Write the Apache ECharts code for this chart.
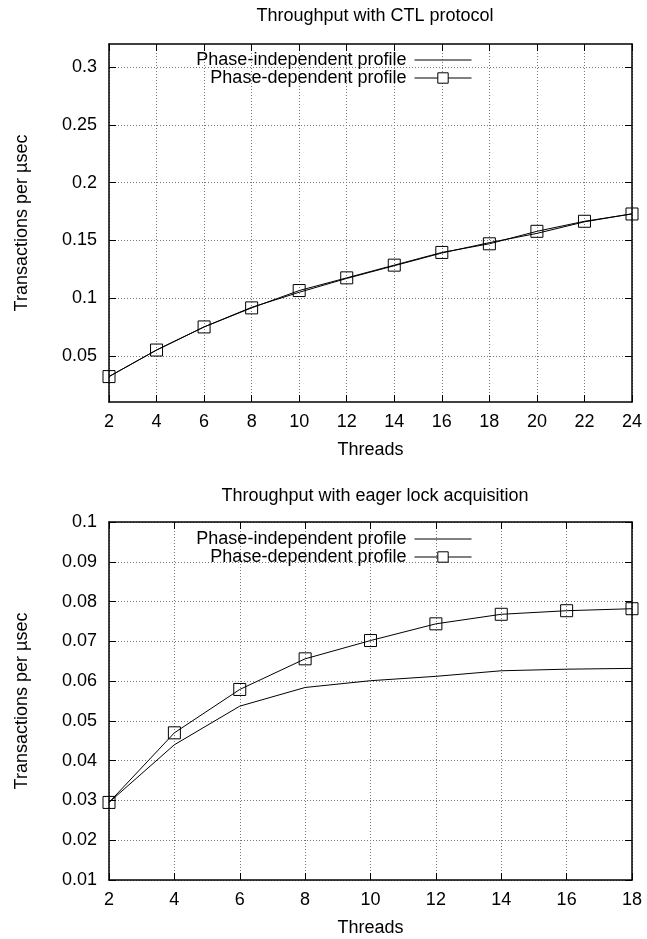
<!DOCTYPE html>
<html>
<head>
<meta charset="utf-8">
<script src="https://cdn.jsdelivr.net/npm/echarts@6/dist/echarts.min.js"></script>
<style>
  html, body {margin: 0; padding: 0; background: #fff;}
  #main {width: 647px; height: 939px;}
</style>
</head>
<body>
<div id="main"></div>
<script>
// top chart: CTL protocol
const ctlThreads = [2, 4, 6, 8, 10, 12, 14, 16, 18, 20, 22, 24];
const ctlIndependent = [0.032, 0.055, 0.075, 0.092, 0.105, 0.117, 0.128, 0.139, 0.148, 0.156, 0.166, 0.173];
const ctlDependent = [0.032, 0.055, 0.075, 0.0915, 0.1065, 0.1175, 0.1285, 0.1395, 0.147, 0.1578, 0.1665, 0.1728];
const ctlYTicks = [0.05, 0.1, 0.15, 0.2, 0.25, 0.3];

// bottom chart: eager lock acquisition
const eagerThreads = [2, 4, 6, 8, 10, 12, 14, 16, 18];
const eagerIndependent = [0.0295, 0.044, 0.0537, 0.0584, 0.0601, 0.0612, 0.0626, 0.063, 0.0632];
const eagerDependent = [0.0295, 0.047, 0.0579, 0.0656, 0.0702, 0.0744, 0.0768, 0.0777, 0.0782];
const eagerYTicks = [0.01, 0.02, 0.03, 0.04, 0.05, 0.06, 0.07, 0.08, 0.09, 0.1];

const FONT = '"Liberation Sans", Arial, sans-serif';
const fs = 18;
const pairs = (xs, ys) => xs.map((x, i) => [x, ys[i]]);

const gridLine = {show: true, lineStyle: {color: '#777', type: [1, 2], width: 1}};
const tick = {show: true, inside: true, length: 7, lineStyle: {color: '#000'}};

const xMain = (gi, max) => ({
  type: 'value', gridIndex: gi, min: 2, max: max, interval: 2,
  name: 'Threads', nameLocation: 'middle', nameGap: 39,
  nameTextStyle: {color: '#000', fontSize: fs, fontFamily: FONT},
  axisLine: {lineStyle: {color: '#000', width: 1.5}},
  axisTick: tick,
  axisLabel: {color: '#000', fontSize: fs, fontFamily: FONT, margin: 11},
  splitLine: gridLine
});
const xMirror = (gi, max) => ({
  type: 'value', gridIndex: gi, position: 'top', min: 2, max: max, interval: 2,
  axisLine: {lineStyle: {color: '#000', width: 1.5}},
  axisTick: tick, axisLabel: {show: false}, splitLine: {show: false}
});
const yMain = (gi, min, max, ticks) => ({
  type: 'value', gridIndex: gi, min: min, max: max,
  name: 'Transactions per \u00b5sec', nameLocation: 'middle', nameGap: 78,
  nameTextStyle: {color: '#000', fontSize: fs, fontFamily: FONT},
  axisLine: {show: true, lineStyle: {color: '#000', width: 1.5}},
  axisTick: Object.assign({customValues: ticks}, tick),
  axisLabel: {color: '#000', fontSize: fs, fontFamily: FONT, margin: 12, customValues: ticks},
  splitLine: gridLine
});
const yMirror = (gi, min, max, ticks) => ({
  type: 'value', gridIndex: gi, position: 'right', min: min, max: max,
  axisLine: {show: true, lineStyle: {color: '#000', width: 1.5}},
  axisTick: Object.assign({customValues: ticks}, tick),
  axisLabel: {show: false}, splitLine: {show: false}
});

const indep = (xi, yi, data) => ({
  name: 'Phase-independent profile', type: 'line', xAxisIndex: xi, yAxisIndex: yi,
  data: data, symbol: 'none', lineStyle: {color: '#000', width: 1}, itemStyle: {color: '#000'},
  animation: false
});
const dep = (xi, yi, data) => ({
  name: 'Phase-dependent profile', type: 'line', xAxisIndex: xi, yAxisIndex: yi,
  data: data, symbol: 'rect', symbolSize: 12, lineStyle: {color: '#000', width: 1},
  itemStyle: {color: 'rgba(255,255,255,0)', borderColor: '#000', borderWidth: 1},
  animation: false
});

const legend = (top) => ({
  top: top, right: 170, orient: 'vertical', align: 'right',
  itemWidth: 57, itemHeight: 13, itemGap: 0,
  data: [
    {name: 'Phase-independent profile', itemStyle: {opacity: 0}},
    {name: 'Phase-dependent profile'}
  ],
  lineStyle: {width: 1, color: '#000'},
  itemStyle: {color: '#fff', borderColor: '#000', borderWidth: 1},
  textStyle: {color: '#000', fontSize: fs, fontFamily: FONT, padding: [0, 3, 0, 0]},
  selectedMode: false
});

const chart = echarts.init(document.getElementById('main'), null, {renderer: 'canvas'});
chart.setOption({
  backgroundColor: '#fff',
  animation: false,
  title: [
    {text: 'Throughput with CTL protocol', left: 370, top: 2, textAlign: 'center',
      textStyle: {color: '#000', fontSize: fs, fontWeight: 'normal', fontFamily: FONT}},
    {text: 'Throughput with eager lock acquisition', left: 370, top: 482, textAlign: 'center',
      textStyle: {color: '#000', fontSize: fs, fontWeight: 'normal', fontFamily: FONT}}
  ],
  legend: [legend(46), legend(525)],
  grid: [
    {left: 109, right: 15, top: 44, height: 358},
    {left: 109, right: 15, top: 522, height: 358}
  ],
  xAxis: [xMain(0, 24), xMain(1, 18), xMirror(0, 24), xMirror(1, 18)],
  yAxis: [
    yMain(0, 0.01, 0.32, ctlYTicks), yMain(1, 0.01, 0.1, eagerYTicks),
    yMirror(0, 0.01, 0.32, ctlYTicks), yMirror(1, 0.01, 0.1, eagerYTicks)
  ],
  series: [
    indep(0, 0, pairs(ctlThreads, ctlIndependent)),
    dep(0, 0, pairs(ctlThreads, ctlDependent)),
    indep(1, 1, pairs(eagerThreads, eagerIndependent)),
    dep(1, 1, pairs(eagerThreads, eagerDependent))
  ]
});
</script>
</body>
</html>
